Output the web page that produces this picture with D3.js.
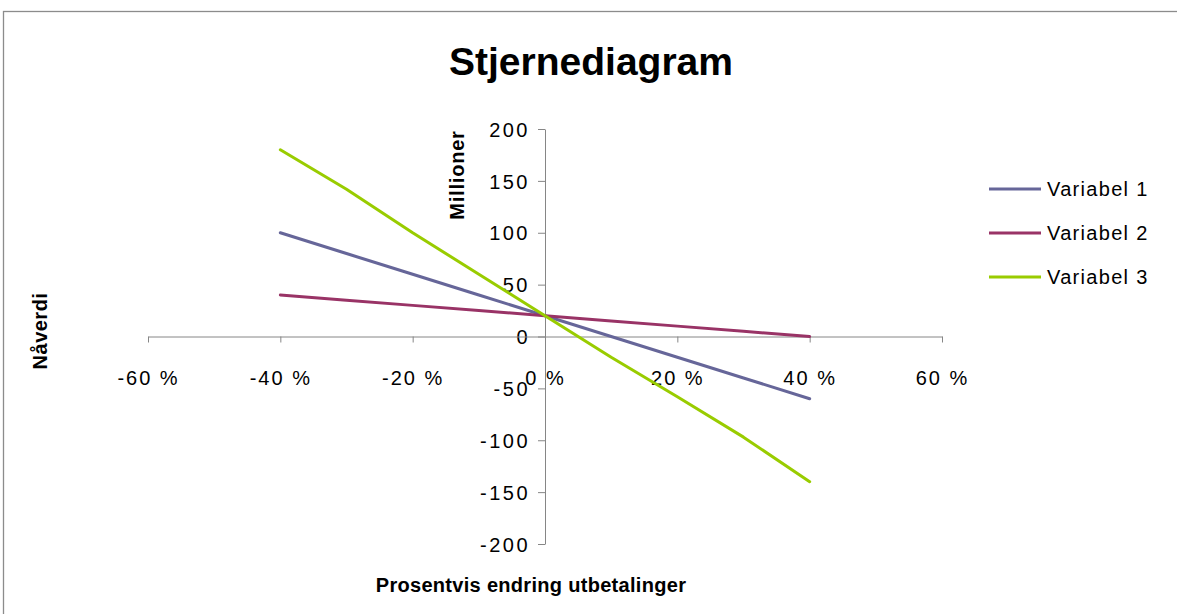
<!DOCTYPE html>
<html>
<head>
<meta charset="utf-8">
<script src="https://cdn.jsdelivr.net/npm/d3@7/dist/d3.min.js"></script>
<style>
  html, body { margin: 0; padding: 0; background: #fff; }
  svg { display: block; }
  text { font-family: "Liberation Sans", Arial, sans-serif; fill: #000; }
</style>
</head>
<body>
<svg id="chart" width="1177" height="614"></svg>
<script>
// ---- data ----
const xValues = [-0.4, -0.3, -0.2, -0.1, 0, 0.1, 0.2, 0.3, 0.4];
const variabel1 = [100, 80, 60, 40, 20, 0, -20, -40, -60];
const variabel2 = [40, 35, 30, 25, 20, 15, 10, 5, 0];
const variabel3 = [180, 142, 100, 60, 20, -20, -58, -97, -140];
const seriesNames = ["Variabel 1", "Variabel 2", "Variabel 3"];
const seriesColors = ["#666699", "#993366", "#99CC00"];
const xTicks = [-0.6, -0.4, -0.2, 0, 0.2, 0.4, 0.6];
const yTicks = [-200, -150, -100, -50, 0, 50, 100, 150, 200];
const title = "Stjernediagram";
const xTitle = "Prosentvis endring utbetalinger";
const yTitle = "Nåverdi";
const yUnit = "Millioner";

const series = [variabel1, variabel2, variabel3];

const svg = d3.select("#chart");

// chart frame
svg.append("rect")
  .attr("x", 3.5).attr("y", 11.5)
  .attr("width", 1250).attr("height", 700)
  .attr("fill", "none").attr("stroke", "#8c8c8c").attr("stroke-width", 1.3);

const x = d3.scaleLinear().domain([-0.6, 0.6]).range([148, 942]);
const y = d3.scaleLinear().domain([-200, 200]).range([544, 129]);

const axisColor = "#868686";
const fmtNum = d => String(d).replace("\u2212", "-");

// y axis at x = 0
const yAxis = svg.append("g")
  .attr("transform", `translate(${x(0)},0)`)
  .call(d3.axisLeft(y).tickValues(yTicks).tickSize(7).tickSizeOuter(0).tickFormat(fmtNum));
yAxis.select(".domain").attr("stroke", axisColor);
yAxis.selectAll(".tick line").attr("stroke", axisColor);
yAxis.selectAll(".tick text")
  .attr("x", -15).attr("dy", "0.36em")
  .style("font-size", "20px").style("letter-spacing", "2.5px")
  .attr("fill", "#000");

// x axis at y = 0
const xAxis = svg.append("g")
  .attr("transform", `translate(0,${y(0)})`)
  .call(d3.axisBottom(x).tickValues(xTicks).tickSize(6).tickSizeOuter(0)
    .tickFormat(d => fmtNum(Math.round(d * 100)) + " %"));
xAxis.select(".domain").attr("stroke", axisColor);
xAxis.selectAll(".tick line").attr("stroke", axisColor);
xAxis.selectAll(".tick text")
  .attr("y", 48).attr("dy", "0")
  .style("font-size", "20px").style("letter-spacing", "2px")
  .attr("fill", "#000");

// lines
const line = d3.line()
  .x((d, i) => x(xValues[i]))
  .y(d => y(d));

series.forEach((s, k) => {
  svg.append("path")
    .datum(s)
    .attr("fill", "none")
    .attr("stroke", seriesColors[k])
    .attr("stroke-width", 3)
    .attr("stroke-linejoin", "round")
    .attr("stroke-linecap", "round")
    .attr("d", line);
});

// title
svg.append("text")
  .attr("x", 591).attr("y", 75)
  .attr("text-anchor", "middle")
  .style("font-size", "39px").style("font-weight", "bold")
  .text(title);

// axis titles
svg.append("text")
  .attr("x", 531).attr("y", 592)
  .attr("text-anchor", "middle")
  .style("font-size", "20px").style("font-weight", "bold").style("letter-spacing", "0.3px")
  .text(xTitle);

svg.append("text")
  .attr("transform", "translate(47,331) rotate(-90)")
  .attr("text-anchor", "middle")
  .style("font-size", "20px").style("font-weight", "bold").style("letter-spacing", "0.5px")
  .text(yTitle);

svg.append("text")
  .attr("transform", "translate(464,175) rotate(-90)")
  .attr("text-anchor", "middle")
  .style("font-size", "20px").style("font-weight", "bold").style("letter-spacing", "0.8px")
  .text(yUnit);

// legend
const legend = svg.append("g");
seriesNames.forEach((name, k) => {
  const ly = 189 + k * 44;
  legend.append("line")
    .attr("x1", 989).attr("x2", 1041)
    .attr("y1", ly).attr("y2", ly)
    .attr("stroke", seriesColors[k]).attr("stroke-width", 3);
  legend.append("text")
    .attr("x", 1047).attr("y", ly).attr("dy", "0.36em")
    .style("font-size", "20px").style("letter-spacing", "1.3px")
    .text(name);
});
</script>
</body>
</html>
